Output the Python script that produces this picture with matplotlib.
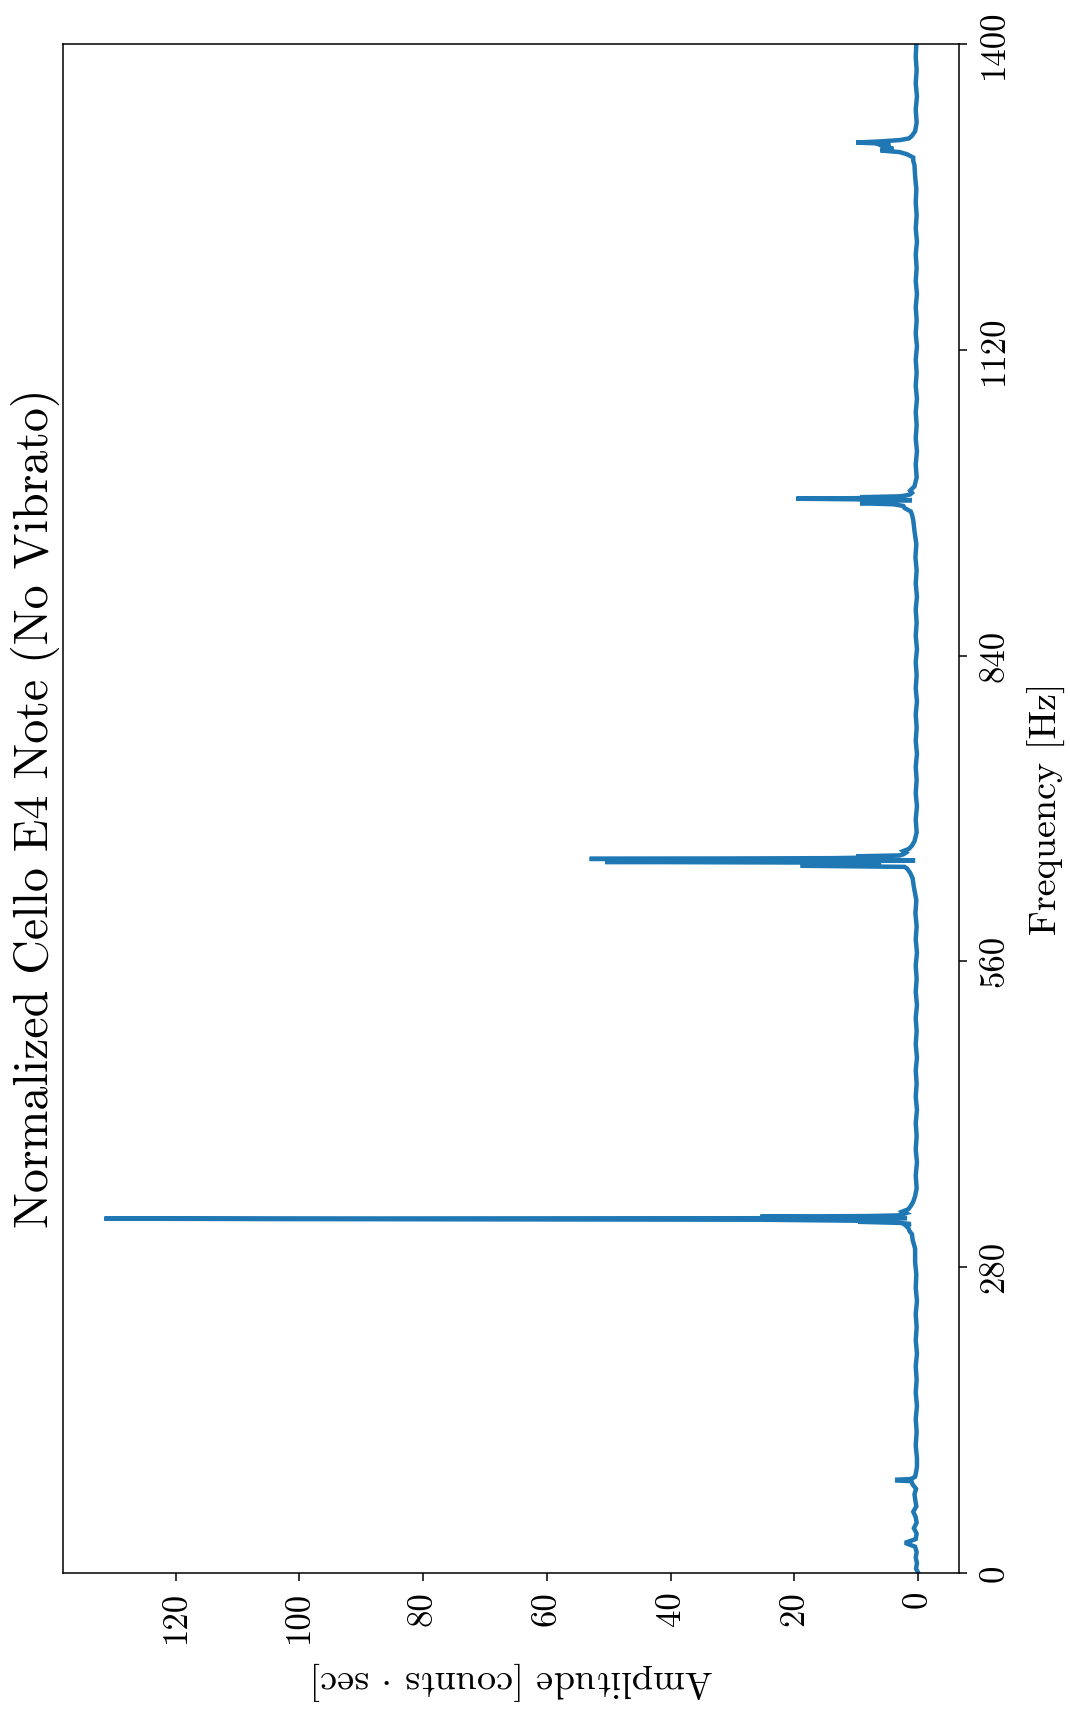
import numpy as np
import matplotlib
matplotlib.use("Agg")
import matplotlib.pyplot as plt

plt.rcParams['font.family'] = 'serif'
plt.rcParams['font.serif'] = ['cmr10']
plt.rcParams['mathtext.fontset'] = 'cm'
plt.rcParams['axes.formatter.use_mathtext'] = True

# spectrum, segment by segment (Hz, counts*sec)
freq_low = [0, 4, 9, 14, 19, 24, 27, 28, 31, 36, 41, 46, 51, 56, 61, 66, 72, 77, 81, 84, 84.6, 85.4, 86, 88, 92, 97]
amp_low = [0.0, 0.35, 0.2, 0.4, 0.25, 0.5, 1.9, 1.9, 0.4, 0.25, 0.7, 0.25, 0.4, 0.8, 0.3, 0.45, 0.6, 0.35, 0.9, 1.1, 3.4, 3.4, 1.2, 0.5, 0.35, 0.2]

freq_base1 = [105, 117, 129, 141, 153, 165, 177, 189, 201, 213, 225, 237, 249, 261, 273, 285, 297, 305, 310]
amp_base1 = [0.2, 0.4, 0.25, 0.4, 0.2, 0.4, 0.25, 0.4, 0.2, 0.4, 0.25, 0.4, 0.2, 0.4, 0.3, 0.5, 0.5, 0.9, 1.0]

freq_h1 = [313, 316, 318, 319.5, 320.5, 321.5, 322.2, 322.8, 323.4, 324.0, 324.4, 324.9, 325.5, 326.2, 326.8,
           327.4, 328.2, 329.5, 331, 333, 336, 340, 345]
amp_h1 = [1.4, 1.6, 2.0, 1.2, 3.0, 9.7, 5.0, 16.0, 25.5, 104.5, 131.5, 1.8, 12.0, 25.5, 8.0,
          3.0, 2.9, 2.0, 2.5, 1.6, 1.2, 0.8, 0.5]

freq_base2 = [352, 364, 376, 388, 400, 412, 424, 436, 448, 460, 472, 484, 496, 508, 520, 532, 544,
              556, 568, 580, 592, 604, 616, 628, 636, 641]
amp_base2 = [0.25, 0.4, 0.2, 0.4, 0.25, 0.4, 0.2, 0.4, 0.25, 0.4, 0.2, 0.4, 0.25, 0.4, 0.2, 0.4, 0.25,
             0.4, 0.2, 0.4, 0.25, 0.45, 0.3, 0.7, 0.9, 1.3]

freq_h2 = [645, 646.5, 647.5, 648.5, 649.5, 650.3, 651.0, 651.8, 652.5, 653.2, 653.8, 654.5, 655.3,
           656.2, 657.0, 658, 659.5, 661, 663, 666, 670]
amp_h2 = [1.8, 2.2, 19.0, 6.0, 13.0, 8.0, 50.6, 9.0, 0.5, 9.0, 53.1, 13.7, 5.0,
          10.0, 3.0, 2.4, 2.0, 2.4, 1.5, 1.0, 0.6]

freq_base3 = [678, 690, 702, 714, 726, 738, 750, 762, 774, 786, 798, 810, 822, 834, 846, 858, 870,
              882, 894, 906, 918, 930, 942, 954, 964, 969]
amp_base3 = [0.25, 0.4, 0.2, 0.4, 0.25, 0.4, 0.2, 0.4, 0.25, 0.4, 0.2, 0.4, 0.25, 0.4, 0.2, 0.4, 0.25,
             0.4, 0.2, 0.4, 0.25, 0.45, 0.3, 0.6, 0.8, 1.0]

freq_h3 = [972, 975, 977, 978.5, 979.5, 980.5, 981.5, 982.3, 983.0, 983.6, 984.3, 985.0, 985.8,
           986.6, 987.5, 989, 991, 995]
amp_h3 = [1.2, 2.2, 2.4, 4.0, 9.4, 5.0, 8.5, 1.0, 9.0, 19.7, 7.0, 9.4, 3.0,
          2.0, 1.3, 1.0, 1.3, 0.6]

freq_base4 = [1003, 1015, 1027, 1039, 1051, 1063, 1075, 1087, 1099, 1111, 1123, 1135, 1147, 1159,
              1171, 1183, 1195, 1207, 1219, 1231, 1243, 1255, 1267, 1279, 1289, 1293]
amp_base4 = [0.25, 0.4, 0.2, 0.4, 0.25, 0.4, 0.2, 0.4, 0.25, 0.4, 0.2, 0.4, 0.25, 0.4,
             0.2, 0.4, 0.25, 0.4, 0.2, 0.4, 0.25, 0.4, 0.3, 0.5, 0.6, 0.8]

freq_h4 = [1296, 1299, 1301, 1302.5, 1304, 1305.5, 1307, 1308.5, 1309.7, 1310.8, 1312, 1313.5, 1316, 1320]
amp_h4 = [0.8, 1.8, 3.0, 6.1, 4.0, 5.5, 6.0, 4.5, 10.0, 6.1, 3.0, 1.5, 1.0, 0.5]

freq_base5 = [1328, 1340, 1352, 1364, 1376, 1388, 1400]
amp_base5 = [0.25, 0.4, 0.2, 0.4, 0.25, 0.4, 0.3]

freq_ticks = [0, 280, 560, 840, 1120, 1400]
amp_ticks = [0, 20, 40, 60, 80, 100, 120]

freq = np.concatenate([freq_low, freq_base1, freq_h1, freq_base2, freq_h2, freq_base3,
                       freq_h3, freq_base4, freq_h4, freq_base5])
amp = np.concatenate([amp_low, amp_base1, amp_h1, amp_base2, amp_h2, amp_base3,
                      amp_h3, amp_base4, amp_h4, amp_base5])

fig = plt.figure(figsize=(10.70, 17.11), dpi=100)
ax = fig.add_axes([0.0589, 0.0807, 0.8374, 0.8936])

# the whole chart is turned a quarter turn: frequency runs up, amplitude runs left
ax.plot(amp, freq, color='#1f77b4', lw=3.2, solid_joinstyle='miter')
ax.set_xlim(138.2, -6.6)
ax.set_ylim(0, 1400)

ax.set_xticks(amp_ticks)
ax.set_xticklabels([str(t) for t in amp_ticks], rotation=90, va='top', ha='center')
ax.set_yticks(freq_ticks)
ax.yaxis.tick_right()
ax.set_yticklabels([str(t) for t in freq_ticks], rotation=90, va='center', ha='left')
ax.tick_params(axis='both', labelsize=25, length=6, width=1.1, direction='out')
ax.tick_params(axis='x', pad=7)
ax.tick_params(axis='y', pad=8)
for sp in ax.spines.values():
    sp.set_linewidth(1.1)

ax.text(-0.031, 0.5, 'Normalized Cello E4 Note (No Vibrato)', transform=ax.transAxes,
        rotation=90, ha='center', va='center', fontsize=34.5)
ax.text(1.098, 0.5, 'Frequency [Hz]', transform=ax.transAxes,
        rotation=90, ha='center', va='center', fontsize=27.5)
ax.text(0.502, -0.0706, r'Amplitude [counts $\cdot$ sec]', transform=ax.transAxes,
        rotation=180, ha='center', va='center', fontsize=27.5)

fig.savefig('out.png', dpi=100)
